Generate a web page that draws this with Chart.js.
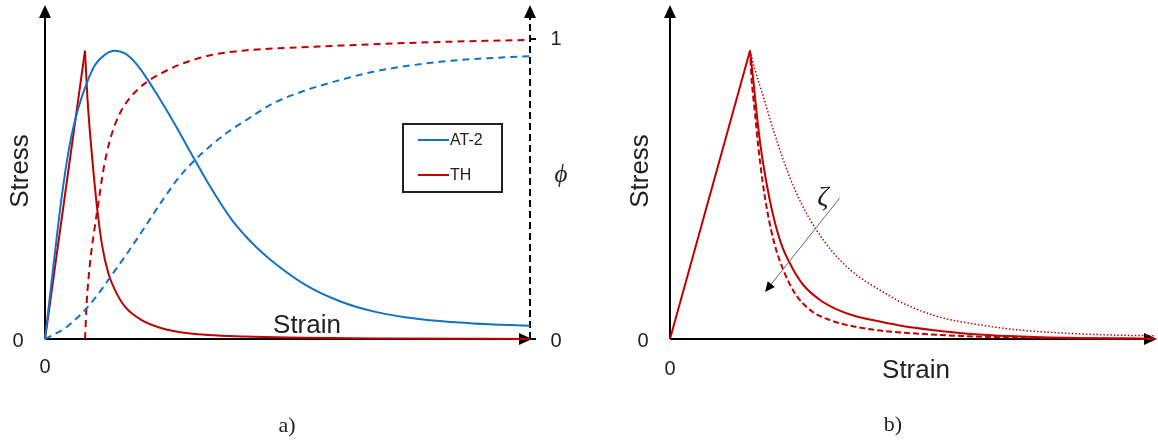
<!DOCTYPE html>
<html>
<head>
<meta charset="utf-8">
<script src="https://cdn.jsdelivr.net/npm/chart.js@4.4.1/dist/chart.umd.min.js"></script>
<style>
  html, body { margin: 0; padding: 0; background: #fff; }
  body { width: 1158px; height: 441px; position: relative; overflow: hidden; font-family: "Liberation Sans", Arial, sans-serif; color: #222; }
  .pane { position: absolute; top: 0; height: 441px; }
  .lbl { position: absolute; transform: translate(-50%, -50%); white-space: nowrap; line-height: 1; }
  .rot { transform: translate(-50%, -50%) rotate(-90deg); }
  .ax { font-size: 26px; }
  .tk { font-size: 20px; }
  .cap { font-family: "Liberation Serif", "Times New Roman", serif; font-size: 22px; }
  .gr { font-family: "Liberation Serif", "DejaVu Serif", serif; font-style: italic; font-size: 28px; }
  #legend { position: absolute; left: 402px; top: 123px; width: 97px; height: 66px; border: 2px solid #222; font-size: 16px; }
  #legend .row { position: absolute; left: 14px; display: flex; align-items: center; }
  #legend .sw { width: 31px; height: 2px; margin-right: 1px; }
</style>
</head>
<body>
<div class="pane" style="left:0;width:600px"><canvas id="c-a"></canvas></div>
<div class="pane" style="left:600px;width:558px"><canvas id="c-b"></canvas></div>

<!-- panel a texts -->
<div class="lbl rot ax" style="left:19px;top:171px">Stress</div>
<div class="lbl tk" style="left:18px;top:340px">0</div>
<div class="lbl tk" style="left:45px;top:366px">0</div>
<div class="lbl ax" style="left:307px;top:324px">Strain</div>
<div class="lbl tk" style="left:556px;top:38px">1</div>
<div class="lbl tk" style="left:556px;top:340px">0</div>
<div class="lbl gr" style="left:561px;top:173px;font-size:25px">ϕ</div>
<div class="lbl cap" style="left:287px;top:425px">a)</div>
<div id="legend">
  <div class="row" style="top:6px"><span class="sw" style="background:#1273C4"></span>AT-2</div>
  <div class="row" style="top:41px"><span class="sw" style="background:#C00000"></span>TH</div>
</div>

<!-- panel b texts -->
<div class="lbl rot ax" style="left:639px;top:171px">Stress</div>
<div class="lbl tk" style="left:643px;top:340px">0</div>
<div class="lbl tk" style="left:670px;top:368px">0</div>
<div class="lbl ax" style="left:916px;top:369px">Strain</div>
<div class="lbl gr" style="left:823px;top:196px">ζ</div>
<div class="lbl cap" style="left:893px;top:424px">b)</div>

<script>
(function () {
  'use strict';
  var BLUE = '#1273C4', RED = '#C00000';

  // ── panel a: stress–strain (AT-2 vs TH) and damage ϕ ──
  var at2Stress = [[0, 0], [0.172, 0.241], [0.344, 0.474], [0.515, 0.652], [0.687, 0.769], [0.859, 0.852],
    [1.031, 0.913], [1.237, 0.948], [1.443, 0.961], [1.649, 0.952], [1.856, 0.922], [2.062, 0.878],
    [2.337, 0.808], [2.68, 0.715], [3.06, 0.605], [3.436, 0.5], [3.849, 0.398], [4.124, 0.345],
    [4.365, 0.305], [4.71, 0.256], [5.395, 0.178], [6.08, 0.126], [6.77, 0.092], [7.46, 0.072],
    [8.14, 0.06], [8.83, 0.052], [10, 0.044]];
  var thRise = [[0, 0], [0.825, 0.961]];
  var thDecay = [[0.825, 0.961], [0.873, 0.808], [0.983, 0.586], [1.079, 0.43], [1.182, 0.308], [1.306, 0.219],
    [1.443, 0.163], [1.649, 0.108], [1.993, 0.063], [2.405, 0.036], [2.955, 0.019], [4.12, 0.008],
    [7, 0.002], [10, 0]];
  var at2Phi = [[0, 0], [0.206, 0.017], [0.412, 0.036], [0.687, 0.074], [1.031, 0.136], [1.375, 0.213],
    [1.718, 0.291], [2.062, 0.374], [2.405, 0.458], [2.749, 0.536], [3.093, 0.597], [3.436, 0.647],
    [3.78, 0.691], [4.124, 0.727], [4.71, 0.786], [5.395, 0.83], [6.08, 0.863], [6.77, 0.891],
    [7.46, 0.91], [8.14, 0.924], [8.83, 0.933], [10, 0.943]];
  var thPhi = [[0.825, 0], [0.859, 0.119], [0.928, 0.252], [1.017, 0.363], [1.1, 0.452], [1.203, 0.563],
    [1.34, 0.663], [1.512, 0.741], [1.718, 0.797], [2.062, 0.852], [2.405, 0.886], [2.749, 0.913],
    [3.093, 0.932], [3.436, 0.947], [3.78, 0.956], [4.124, 0.962], [6.08, 0.978], [8.14, 0.99], [10, 0.997]];

  // ── panel b: TH softening for three ζ ──
  var bRise = [[0, 0], [1.649, 0.961]];
  var bSolid = [[1.649, 0.961], [1.718, 0.863], [1.787, 0.752], [1.869, 0.641], [1.979, 0.53], [2.117, 0.419],
    [2.289, 0.319], [2.509, 0.241], [2.749, 0.18], [3.093, 0.13], [3.436, 0.099], [3.849, 0.075],
    [4.33, 0.058], [4.74, 0.045], [5.4, 0.03], [6.2, 0.017], [7.5, 0.007], [10, 0.001]];
  var bDashed = [[1.649, 0.961], [1.684, 0.863], [1.753, 0.752], [1.821, 0.641], [1.904, 0.53], [2.014, 0.419],
    [2.151, 0.319], [2.337, 0.23], [2.577, 0.152], [2.887, 0.097], [3.299, 0.063], [3.849, 0.04],
    [4.33, 0.028], [4.74, 0.022], [6, 0.01], [8, 0.003], [10, 0]];
  var bDotted = [[1.649, 0.961], [1.753, 0.897], [1.924, 0.808], [2.131, 0.697], [2.337, 0.597], [2.577, 0.497],
    [2.852, 0.408], [3.162, 0.33], [3.505, 0.263], [3.849, 0.213], [4.33, 0.163], [4.674, 0.13],
    [5.017, 0.104], [5.361, 0.083], [5.704, 0.067], [6.392, 0.047], [7.079, 0.032], [7.766, 0.023],
    [8.454, 0.017], [9.141, 0.013], [10, 0.011]];
  var zetaArrow = [[3.5, 0.47], [1.96, 0.157]];   // from → to, in strain/stress units

  var X_MAX = 10, Y_MAX = 1.1;

  function pts(a) { return a.map(function (p) { return { x: p[0], y: p[1] }; }); }
  function ds(data, color, opt) {
    var d = { data: pts(data), borderColor: color, borderWidth: 2, pointRadius: 0, fill: false, clip: false,
      cubicInterpolationMode: 'monotone' };
    for (var k in opt) d[k] = opt[k];
    return d;
  }

  function head(ctx, x1, y1, x2, y2, len, half) {
    var a = Math.atan2(y2 - y1, x2 - x1);
    ctx.beginPath();
    ctx.moveTo(x2, y2);
    ctx.lineTo(x2 - len * Math.cos(a) + half * Math.sin(a), y2 - len * Math.sin(a) - half * Math.cos(a));
    ctx.lineTo(x2 - len * Math.cos(a) - half * Math.sin(a), y2 - len * Math.sin(a) + half * Math.cos(a));
    ctx.closePath();
    ctx.fill();
  }
  function arrow(ctx, x1, y1, x2, y2, dash) {
    ctx.save();
    ctx.strokeStyle = '#000'; ctx.fillStyle = '#000'; ctx.lineWidth = 2;
    if (dash) ctx.setLineDash(dash);
    ctx.beginPath(); ctx.moveTo(x1, y1);
    var a = Math.atan2(y2 - y1, x2 - x1);
    ctx.lineTo(x2 - 10 * Math.cos(a), y2 - 10 * Math.sin(a)); ctx.stroke();
    ctx.setLineDash([]);
    head(ctx, x1, y1, x2, y2, 13, 6);
    ctx.restore();
  }

  // draws the arrowed axes (and, for panel a, the dashed ϕ axis) under the curves
  var axesPlugin = {
    id: 'axes',
    beforeDatasetsDraw: function (chart, args, o) {
      var ctx = chart.ctx, x = chart.scales.x, y = chart.scales.y, ca = chart.chartArea;
      var x0 = x.getPixelForValue(0), y0 = y.getPixelForValue(0);
      arrow(ctx, x0, y0, x0, ca.top - 4);
      arrow(ctx, x0, y0, ca.right + 2, y0);
      if (o.phiAxis) {
        var p = chart.scales.phi, xr = ca.right;
        arrow(ctx, xr, y0, xr, ca.top - 4, [7, 4]);
        ctx.save();
        ctx.strokeStyle = '#000'; ctx.lineWidth = 2;
        [0, 1].forEach(function (v) {
          var py = p.getPixelForValue(v);
          ctx.beginPath(); ctx.moveTo(xr, py); ctx.lineTo(xr + 6, py); ctx.stroke();
        });
        ctx.restore();
      }
    },
    afterDatasetsDraw: function (chart, args, o) {
      if (!o.zeta) return;
      var ctx = chart.ctx, x = chart.scales.x, y = chart.scales.y;
      var x1 = x.getPixelForValue(o.zeta[0][0]), y1 = y.getPixelForValue(o.zeta[0][1]);
      var x2 = x.getPixelForValue(o.zeta[1][0]), y2 = y.getPixelForValue(o.zeta[1][1]);
      ctx.save();
      ctx.strokeStyle = '#666'; ctx.fillStyle = '#000'; ctx.lineWidth = 1;
      var a = Math.atan2(y2 - y1, x2 - x1);
      ctx.beginPath(); ctx.moveTo(x1, y1); ctx.lineTo(x2 - 8 * Math.cos(a), y2 - 8 * Math.sin(a)); ctx.stroke();
      head(ctx, x1, y1, x2, y2, 10, 4.5);
      ctx.restore();
    }
  };

  function opts(pad, extra) {
    var scales = {
      x: { type: 'linear', min: 0, max: X_MAX, display: false },
      y: { type: 'linear', min: 0, max: Y_MAX, display: false }
    };
    if (extra.phiAxis) scales.phi = { type: 'linear', position: 'right', min: 0, max: Y_MAX, display: false };
    return {
      responsive: true, maintainAspectRatio: false, animation: false,
      layout: { padding: pad },
      plugins: { legend: { display: false }, tooltip: { enabled: false }, axes: extra },
      scales: scales
    };
  }

  new Chart(document.getElementById('c-a'), {
    type: 'line',
    data: { datasets: [
      ds(at2Phi, BLUE, { yAxisID: 'phi', borderDash: [7, 5] }),
      ds(thPhi, RED, { yAxisID: 'phi', borderDash: [7, 5] }),
      ds(at2Stress, BLUE, {}),
      ds(thRise, RED, { cubicInterpolationMode: 'default', tension: 0 }),
      ds(thDecay, RED, {})
    ] },
    options: opts({ left: 45, top: 9, right: 70, bottom: 102 }, { phiAxis: true }),
    plugins: [axesPlugin]
  });

  new Chart(document.getElementById('c-b'), {
    type: 'line',
    data: { datasets: [
      ds(bDotted, RED, { borderWidth: 1.5, borderDash: [1.5, 2] }),
      ds(bDashed, RED, { borderDash: [6, 3] }),
      ds(bSolid, RED, {}),
      ds(bRise, RED, { cubicInterpolationMode: 'default', tension: 0 })
    ] },
    options: opts({ left: 70, top: 9, right: 3, bottom: 102 }, { zeta: zetaArrow }),
    plugins: [axesPlugin]
  });
})();
</script>
</body>
</html>
